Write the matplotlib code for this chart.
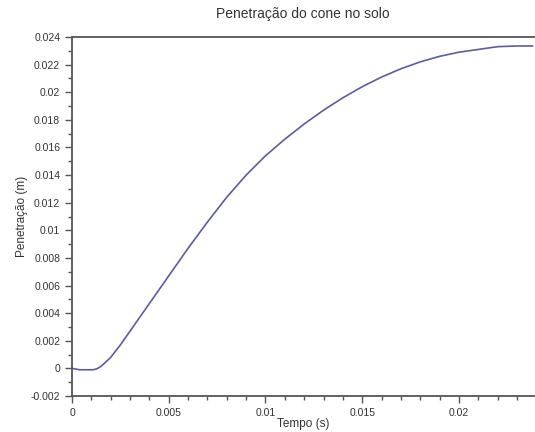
import matplotlib
matplotlib.use("Agg")
import matplotlib.pyplot as plt
from matplotlib.ticker import MultipleLocator, FuncFormatter

plt.rcParams['font.family'] = ['Liberation Sans', 'DejaVu Sans']

tempo = [0, 0.0004, 0.0008, 0.0011, 0.0013, 0.0015, 0.0017, 0.002, 0.0025, 0.003,
         0.004, 0.005, 0.006, 0.007, 0.008, 0.009, 0.010, 0.011, 0.012, 0.013,
         0.014, 0.015, 0.016, 0.017, 0.018, 0.019, 0.020, 0.021, 0.022, 0.023, 0.0238]
penetracao = [0, -0.0001, -0.0001, -0.0001, -0.00002, 0.00015, 0.0004, 0.0008, 0.0017, 0.0027,
              0.0047, 0.0067, 0.0087, 0.0106, 0.0124, 0.0140, 0.0154, 0.0166, 0.0177, 0.0187,
              0.0196, 0.0204, 0.0211, 0.0217, 0.0222, 0.0226, 0.0229, 0.0231, 0.0233, 0.02335, 0.02335]

fig = plt.figure(figsize=(5.35, 4.32), dpi=100)
ax = fig.add_axes([72/535, 1-396/432, 1-72/535-0.001, (396-37)/432])
ax.plot(tempo, penetracao, color='#5c5ca6', lw=1.2)

ax.set_xlim(0, 0.0239)
ax.set_ylim(-0.002, 0.024)
ax.xaxis.set_major_locator(MultipleLocator(0.005))
ax.xaxis.set_minor_locator(MultipleLocator(0.001))
ax.yaxis.set_major_locator(MultipleLocator(0.002))
ax.yaxis.set_minor_locator(MultipleLocator(0.001))
fmt = FuncFormatter(lambda v, p: '0' if abs(v) < 1e-12 else '{:g}'.format(round(v, 6)))
ax.xaxis.set_major_formatter(fmt)
ax.yaxis.set_major_formatter(fmt)

for s in ['top', 'bottom', 'left']:
    ax.spines[s].set_color('#555555')
    ax.spines[s].set_linewidth(1.3)
ax.spines['right'].set_visible(False)
ax.tick_params(which='major', direction='out', length=5, width=1, color='#555555',
               labelsize=7.5, labelcolor='#333333')
ax.tick_params(which='minor', direction='out', length=3, width=1, color='#555555')

ax.set_title('Penetração do cone no solo', fontsize=10, color='#333333', pad=14)
ax.set_xlabel('Tempo (s)', fontsize=8.5, color='#333333', va='center')
ax.xaxis.set_label_coords(0.5, -(424 - 396) / 359)
ax.set_ylabel('Penetração (m)', fontsize=8.5, color='#333333', labelpad=2)

fig.savefig('out.png', dpi=100)
